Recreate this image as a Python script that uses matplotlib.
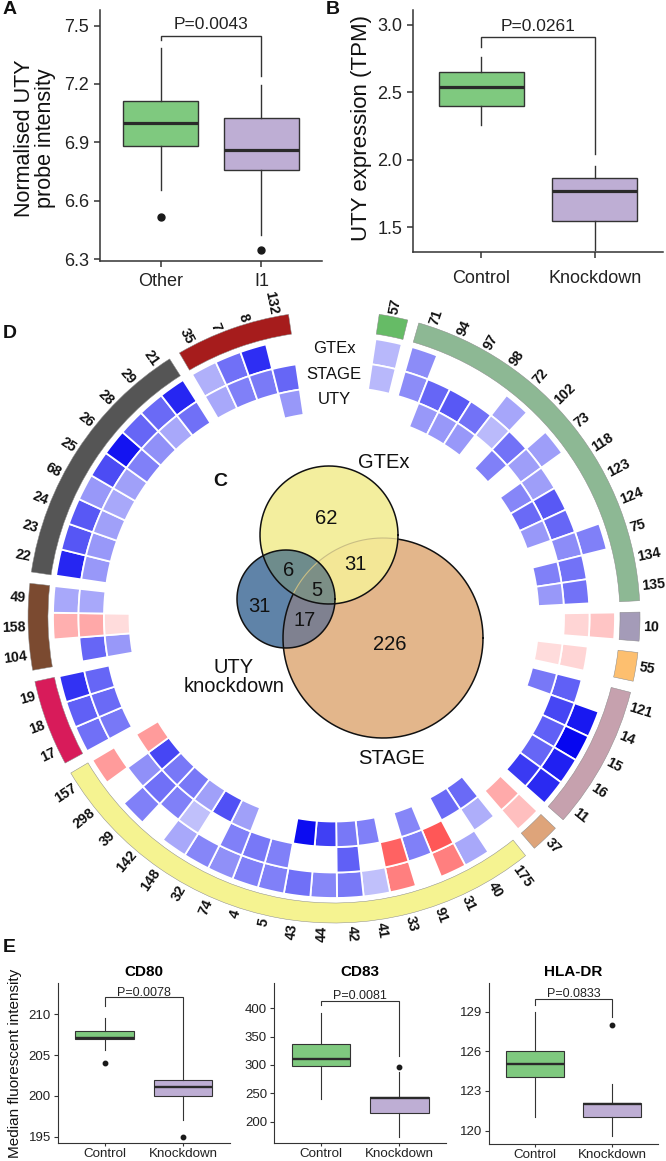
import numpy as np
import matplotlib
matplotlib.use("Agg")
import matplotlib.pyplot as plt
from matplotlib import font_manager
from matplotlib.colors import LinearSegmentedColormap, Normalize

W, H, DPI = 666, 1161, 100

avail = {f.name for f in font_manager.fontManager.ttflist}
SANS = "Liberation Sans" if "Liberation Sans" in avail else "DejaVu Sans"
HAS_NARROW = "Liberation Sans Narrow" in avail
NARROW = "Liberation Sans Narrow" if HAS_NARROW else SANS
LABEL_FS = 12 if HAS_NARROW else 10.2
plt.rcParams["font.family"] = [SANS, "DejaVu Sans"]

# ================= data =================
# Panel A
a_groups = ["Other", "I1"]
a_q1 = [6.884, 6.757]
a_med = [7.000, 6.862]
a_q3 = [7.114, 7.023]
a_whislo = [6.656, 6.425]
a_whishi = [7.385, 7.196]
a_fliers = [[6.516], [6.348]]
a_pvalue = "P=0.0043"
a_bracket = [7.449, 7.428, 7.240]
a_yticks = [6.3, 6.6, 6.9, 7.2, 7.5]

# Panel B
b_groups = ["Control", "Knockdown"]
b_q1 = [2.398, 1.550]
b_med = [2.542, 1.772]
b_q3 = [2.653, 1.864]
b_whislo = [2.262, 1.333]
b_whishi = [2.765, 1.958]
b_fliers = [[], []]
b_pvalue = "P=0.0261"
b_bracket = [2.908, 2.835, 2.040]
b_yticks = [1.5, 2.0, 2.5, 3.0]

# Panel E
e_markers = ["CD80", "CD83", "HLA-DR"]
e_groups = ["Control", "Knockdown"]
e_q1 = [[207.0, 200.0], [299.0, 216.0], [124.07, 121.0]]
e_med = [[207.06, 201.06], [311.0, 242.0], [125.05, 122.0]]
e_q3 = [[208.0, 202.0], [336.6, 244.2], [126.0, 122.08]]
e_whislo = [[205.6, 197.0], [240.5, 173.3], [121.0, 119.6]]
e_whishi = [[209.5, 206.0], [391.0, 288.3], [129.0, 123.5]]
e_fliers = [[[204.05], [195.0]], [[], [296.7]], [[], [128.0]]]
e_pvalues = ["P=0.0078", "P=0.0081", "P=0.0833"]
e_brackets = [[212.1, 211.0, 206.1], [413.5, 406.0, 316.7], [129.96, 129.5, 128.6]]
e_yticks = [[195, 200, 205, 210], [200, 250, 300, 350, 400], [120, 123, 126, 129]]

# Panel C (Venn)
venn_regions = ["GTEx", "GTEx&STAGE", "GTEx&UTY", "GTEx&UTY&STAGE", "UTY", "UTY&STAGE", "STAGE"]
venn_counts = [62, 31, 6, 5, 31, 17, 226]

# Panel D (circular heatmap): groups of probes, clockwise from top
track_groups = [
    ["57"],
    ["71", "94", "97", "98", "72", "102", "73", "118", "123", "124", "75", "134", "135"],
    ["10"],
    ["55"],
    ["121", "14", "15", "16", "11"],
    ["37"],
    ["175", "40", "31", "91", "33", "41", "42", "44", "43", "5", "4", "74", "32", "148",
     "142", "39", "298", "157"],
    ["17", "18", "19"],
    ["104", "158", "49"],
    ["22", "23", "24", "68", "25", "26", "28", "29", "21"],
    ["35", "7", "8", "132"],
]
track_colors = ["#66BB66", "#8DB894", "#A49BB8", "#FDBF6F", "#C6A1AE", "#DEA47A",
                "#F5F391", "#D81B5A", "#7B4A30", "#555555", "#A61C1C"]
nan = np.nan
gtex_vals = [-0.28,
             -0.45, nan, nan, nan, -0.35, nan, -0.38, nan, nan, nan, -0.50, nan, nan,
             0.25,
             nan,
             nan, -0.90, -0.97, -0.87, -0.83,
             0.28,
             nan, -0.34, 0.56, nan, 0.56, -0.25, -0.53, -0.47, -0.56, -0.50, -0.50, -0.43,
             -0.47, -0.34, nan, -0.50, nan, 0.43,
             -0.56, -0.62, -0.80,
             nan, 0.35, -0.34,
             -0.85, -0.66, -0.65, -0.40, -0.70, -0.92, -0.60, -0.58, -0.85,
             -0.31, -0.56, -0.82, nan]
stage_vals = [-0.28,
              -0.45, -0.60, -0.65, -0.55, -0.27, -0.55, -0.38, -0.38, -0.65, -0.60, -0.45,
              -0.55, -0.55,
              0.18,
              0.18,
              -0.62, -0.72, -0.62, -0.60, -0.77,
              0.37,
              -0.32, nan, 0.73, -0.50, 0.68, nan, -0.62, nan, nan, -0.50, -0.53, -0.50,
              nan, -0.25, -0.50, -0.56, -0.43, nan,
              -0.53, -0.58, -0.60,
              -0.60, 0.38, -0.34,
              -0.40, -0.40, -0.37, -0.34, -0.37, -0.50, -0.43, -0.34, -0.56,
              -0.34, -0.50, -0.52, -0.60]
uty_vals = [nan,
            nan, -0.40, -0.40, -0.40, nan, -0.50, nan, -0.47, -0.58, -0.40, nan, -0.50, -0.40,
            nan,
            0.15,
            -0.53, nan, nan, nan, nan,
            nan,
            -0.58, -0.58, nan, -0.47, nan, -0.50, -0.53, -0.75, -0.95, nan, nan, -0.37,
            -0.68, -0.37, -0.53, -0.53, -0.72, 0.43,
            nan, nan, nan,
            -0.40, 0.15, nan,
            nan, nan, nan, nan, nan, nan, nan, nan, nan,
            nan, nan, nan, -0.40]
ring_names = ["GTEx", "STAGE", "UTY"]

# ================= styles =================
GREEN, PURPLE = "#7FC97F", "#BEAED4"
EDGE = "#333333"


def px_rect(left, top, right, bottom):
    return [left / W, 1 - bottom / H, (right - left) / W, (bottom - top) / H]


fig = plt.figure(figsize=(W / DPI, H / DPI), dpi=DPI)


def style_axes(ax, fs, tick_len, lw):
    for s in ["top", "right"]:
        ax.spines[s].set_visible(False)
    for s in ["left", "bottom"]:
        ax.spines[s].set_linewidth(lw)
        ax.spines[s].set_color(EDGE)
    ax.tick_params(length=tick_len, width=lw, color=EDGE, labelsize=fs,
                   labelcolor="#222222")


def box_panel(ax, groups, q1, med, q3, lo, hi, fliers, lw_box, lw_med, ms):
    stats = [dict(label=g, q1=a, med=m, q3=b, whislo=l, whishi=h, fliers=f)
             for g, a, m, b, l, h, f in zip(groups, q1, med, q3, lo, hi, fliers)]
    res = ax.bxp(stats, positions=[1, 2], widths=0.75, patch_artist=True,
                 showcaps=False,
                 boxprops=dict(linewidth=lw_box, edgecolor=EDGE),
                 whiskerprops=dict(linewidth=lw_box, color=EDGE),
                 medianprops=dict(linewidth=lw_med, color="#2a2a2a",
                                  solid_capstyle="butt"),
                 flierprops=dict(marker="o", markersize=ms, markerfacecolor="#1a1a1a",
                                 markeredgecolor="#1a1a1a", linestyle="none"))
    for patch, c in zip(res["boxes"], [GREEN, PURPLE]):
        patch.set_facecolor(c)
    ax.set_xlim(0.4, 2.6)


def bracket(ax, br, pval, lw, fs, off):
    y, yl, yr = br
    ax.plot([1, 1, 2, 2], [yl, y, y, yr], color=EDGE, lw=lw, clip_on=False,
            solid_joinstyle="miter")
    ax.annotate(pval, xy=(1.5, y), xytext=(0, off), textcoords="offset points",
                ha="center", va="baseline", fontsize=fs, color="#222222",
                annotation_clip=False)


# ---------- Panel A ----------
axA = fig.add_axes(px_rect(100, 10, 322, 261))
box_panel(axA, a_groups, a_q1, a_med, a_q3, a_whislo, a_whishi, a_fliers, 1.0, 2.3, 5)
axA.set_ylim(6.291, 7.58)
axA.set_yticks(a_yticks)
axA.set_yticklabels([f"{t:.1f}" for t in a_yticks])
axA.set_xticks([1, 2])
axA.set_xticklabels(a_groups)
style_axes(axA, 13, 4.2, 1.1)
axA.tick_params(axis="x", pad=4.5)
bracket(axA, a_bracket, a_pvalue, 1.0, 12.5, 4.5)

# ---------- Panel B ----------
axB = fig.add_axes(px_rect(413, 10, 663, 252))
box_panel(axB, b_groups, b_q1, b_med, b_q3, b_whislo, b_whishi, b_fliers, 1.0, 2.3, 5)
axB.set_ylim(1.317, 3.111)
axB.set_yticks(b_yticks)
axB.set_yticklabels([f"{t:.1f}" for t in b_yticks])
axB.set_xticks([1, 2])
axB.set_xticklabels(b_groups)
style_axes(axB, 13, 4.2, 1.1)
axB.tick_params(axis="x", pad=9)
bracket(axB, b_bracket, b_pvalue, 1.0, 12.5, 4.5)

# ---------- Panel E ----------
e_boxes = [(57.7, 983.3, 230, 1143.3), (274, 983.3, 446.3, 1143.3), (489, 983.3, 658, 1144)]
e_lims = [(194.19, 213.8), (161.9, 444.0), (118.99, 131.14)]
for i in range(3):
    ax = fig.add_axes(px_rect(*e_boxes[i]))
    box_panel(ax, e_groups, e_q1[i], e_med[i], e_q3[i], e_whislo[i], e_whishi[i],
              e_fliers[i], 0.8, 1.7, 3.2)
    ax.set_ylim(*e_lims[i])
    ax.set_yticks(e_yticks[i])
    ax.set_yticklabels([str(t) for t in e_yticks[i]])
    ax.set_xticks([1, 2])
    ax.set_xticklabels(e_groups)
    style_axes(ax, 9.5, 3, 0.8)
    ax.tick_params(axis="x", labelsize=9.6, pad=0.8, length=2.5)
    ax.tick_params(axis="y", pad=2)
    bracket(ax, e_brackets[i], e_pvalues[i], 0.8, 9, 1.2)
    ax.set_title(e_markers[i], fontsize=11, fontweight="bold", pad=5)

# ---------- Panel D: circular heatmap ----------
R = 340
cx, cy = 334, 617
axc = fig.add_axes(px_rect(cx - R, cy - R, cx + R, cy + R), projection="polar")
axc.set_theta_zero_location("N")
axc.set_theta_direction(-1)
axc.set_ylim(0, R)
axc.axis("off")
axc.patch.set_visible(False)

item_w, gap_w, start_ang = 5.45, 2.14, 8.5
labels, thetas, group_span = [], [], []
pos = start_ang
for gi, grp in enumerate(track_groups):
    if gi > 0:
        pos += gap_w
    g0 = pos
    for lab in grp:
        labels.append(lab)
        thetas.append(pos + item_w / 2)
        pos += item_w
    group_span.append((g0, pos))
thetas = np.array(thetas)

cmap = LinearSegmentedColormap.from_list("bwr2", ["#0000F0", "#FFFFFF", "#FF1A1A"])
norm = Normalize(-1, 1)

# outer track
track_r0, track_h = 286, 20
for (g0, g1), col in zip(group_span, track_colors):
    axc.bar(np.deg2rad((g0 + g1) / 2), track_h, width=np.deg2rad(g1 - g0),
            bottom=track_r0, color=col, edgecolor="#8a8a8a", linewidth=0.35)

ring_bottoms = [255.5, 230.0, 204.5]
ring_h = 25.5
for vals, r0 in zip([gtex_vals, stage_vals, uty_vals], ring_bottoms):
    v = np.array(vals, dtype=float)
    m = ~np.isnan(v)
    axc.bar(np.deg2rad(thetas[m]), ring_h, width=np.deg2rad(item_w), bottom=r0,
            color=cmap(norm(v[m])), edgecolor="white", linewidth=1.3)

# probe labels
for lab, th in zip(labels, thetas):
    if th < 180:
        rot, ha = 90 - th, "left"
    else:
        rot, ha = 270 - th, "right"
    axc.text(np.deg2rad(th), 309, lab, rotation=rot, rotation_mode="anchor",
             ha=ha, va="center", fontsize=LABEL_FS, fontweight="bold",
             family=[NARROW, "DejaVu Sans"], color="#111111")

for name, r0 in zip(ring_names, ring_bottoms):
    axc.text(0, r0 + ring_h / 2, name, ha="center", va="center", fontsize=12,
             color="#111111")

# ---------- overlay (Venn + panel letters) ----------
axo = fig.add_axes([0, 0, 1, 1])
axo.set_xlim(0, W)
axo.set_ylim(H, 0)
axo.axis("off")
axo.patch.set_visible(False)

C_G = (329, 535, 69)
C_U = (286, 599, 49)
C_S = (383, 638, 100)
circ = {"GTEx": C_G, "UTY": C_U, "STAGE": C_S}


def circle_pts(c, n=1440):
    t = np.linspace(0, 2 * np.pi, n, endpoint=False)
    return np.column_stack([c[0] + c[2] * np.cos(t), c[1] + c[2] * np.sin(t)])


def inside(p, c):
    return (p[:, 0] - c[0]) ** 2 + (p[:, 1] - c[1]) ** 2 <= c[2] ** 2 + 1e-6


def intersection(cs):
    pts = []
    for i, c in enumerate(cs):
        p = circle_pts(c)
        mk = np.ones(len(p), bool)
        for j, d in enumerate(cs):
            if j != i:
                mk &= inside(p, d)
        pts.append(p[mk])
    pts = np.vstack(pts)
    cen = pts.mean(0)
    ang = np.arctan2(pts[:, 1] - cen[1], pts[:, 0] - cen[0])
    return pts[np.argsort(ang)]


region_colors = {
    "STAGE": "#E3B68B", "GTEx": "#F3EE9E", "UTY": "#5F83A8",
    "GTEx&STAGE": "#F3E796", "GTEx&UTY": "#6E8C8C", "UTY&STAGE": "#7F8190",
    "GTEx&UTY&STAGE": "#7C8F86",
}
for key in ["STAGE", "GTEx", "UTY", "GTEx&STAGE", "GTEx&UTY", "UTY&STAGE", "GTEx&UTY&STAGE"]:
    parts = key.split("&")
    poly = intersection([circ[p] for p in parts]) if len(parts) > 1 else circle_pts(circ[key])
    axo.fill(poly[:, 0], poly[:, 1], color=region_colors[key], lw=0, zorder=2)

for key in ["GTEx", "UTY"]:
    p = circle_pts(circ[key])
    p = np.vstack([p, p[:1]])
    axo.plot(p[:, 0], p[:, 1], color="#111111", lw=1.1, zorder=4)
ps = circle_pts(C_S)
ps = np.vstack([ps, ps[:1]])
in_g = inside(ps, C_G)
axo.plot(ps[:, 0], np.where(in_g, np.nan, ps[:, 1]), color="#111111", lw=1.1, zorder=3)
axo.plot(ps[:, 0], np.where(in_g, ps[:, 1], np.nan), color="#C9BE84", lw=0.8, zorder=3)

venn_pos = [(326, 518), (355, 565), (289, 570), (317, 590), (259, 606), (305, 620), (390, 644)]
for (x, y), n in zip(venn_pos, venn_counts):
    axo.text(x, y, str(n), ha="center", va="center", fontsize=14.5, color="#111111", zorder=5)
axo.text(384, 463, "GTEx", ha="center", va="center", fontsize=14.5, color="#111111")
axo.text(234, 677, "UTY\nknockdown", ha="center", va="center", fontsize=14.5,
         linespacing=1.0, color="#111111")
axo.text(391, 758, "STAGE", ha="center", va="center", fontsize=14.5, color="#111111")

# axis titles
axo.text(35, 138, "Normalised UTY\nprobe intensity", rotation=90, ha="center", va="center",
         fontsize=15.5, linespacing=1.0, color="#111111")
axo.text(361, 128, "UTY expression (TPM)", rotation=90, ha="center", va="center",
         fontsize=16, color="#111111")
axo.text(15, 1063, "Median fluorescent intensity", rotation=90, ha="center", va="center",
         fontsize=11, color="#111111")

# panel letters
for lab, (x, y) in zip("ABDCE", [(10, 9), (333, 10), (10, 333), (220, 481), (9, 947)]):
    axo.text(x, y, lab, ha="center", va="center", fontsize=14, fontweight="bold",
             color="#111111")

fig.savefig("out.png", dpi=DPI)
